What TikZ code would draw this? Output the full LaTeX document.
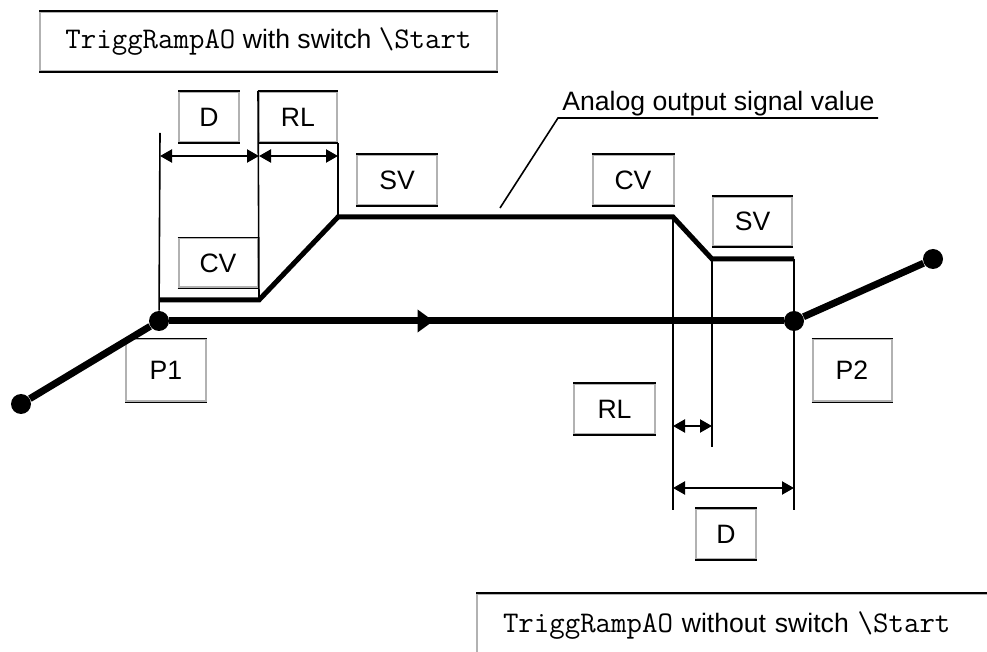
\documentclass[tikz,border=0pt]{standalone}
\usepackage{fontspec}
\setsansfont{Liberation Sans}
\usetikzlibrary{arrows.meta,decorations.markings}
\newcommand{\codetxt}[1]{{\ttfamily\fontsize{15}{16}\selectfont #1}}

\begin{document}
\begin{tikzpicture}[
  x=0.5pt, y=-0.5pt,
  lbl/.style={draw=gray!60, line width=1pt, minimum width=40pt, minimum height=25pt, inner sep=0pt,
    font=\sffamily\fontsize{13.3}{16}\selectfont,
    append after command={\pgfextra{\let\lblnode\tikzlastnode}
      (\lblnode.north west) edge[draw=black, line width=0.8pt] (\lblnode.north east)
      (\lblnode.south west) edge[draw=black, line width=0.8pt] (\lblnode.south east)}},
  track/.style={line width=3.5pt},
  signal/.style={line width=2.5pt},
  guide/.style={line width=0.8pt},
  dimarrow/.style={<->, >={Triangle[length=6pt,width=6.5pt]}, line width=1.1pt},
  dot/.style={circle, fill, inner sep=0pt, minimum size=10pt}
]
  \path[use as bounding box, clip] (0,0) rectangle (987,652);

  % Headings
  \node[lbl, minimum width=228.5pt, minimum height=29.5pt] (topbox) at (268.5,41.5)
    {\codetxt{TriggRampAO} with switch \codetxt{\textbackslash Start}};
  \node[lbl, anchor=north west, minimum height=32pt, inner xsep=13pt, text width=250pt] (botbox) at (476,593)
    {\codetxt{TriggRampAO} without switch \codetxt{\textbackslash Start}};

  % Path points
  \node[dot] (a) at (21,404) {};
  \node[dot] (p1) at (159,321) {};
  \node[dot] (p2) at (794,321) {};
  \node[dot] (e) at (933,259) {};

  % Signal corners
  \coordinate (s0) at (160,300);
  \coordinate (s1) at (259,300);
  \coordinate (s2) at (338,217);
  \coordinate (s3) at (673,217);
  \coordinate (s4) at (712,259);
  \coordinate (s5) at (794,259);

  % Labels
  \node[lbl, minimum width=30pt] (dTop) at (209,117) {D};
  \node[lbl, minimum width=39pt] (rlTop) at (298,117) {RL};
  \node[lbl] (svTop) at (397,180) {SV};
  \node[lbl, minimum width=39.5pt, minimum height=24.5pt] (cvLeft) at (218,263) {CV};
  \node[lbl, minimum width=40.5pt] (cvRight) at (633,180) {CV};
  \node[lbl, minimum width=39.5pt, minimum height=24.5pt] (svRight) at (752.5,221.5) {SV};
  \node[lbl, minimum height=31pt] (p1box) at (166,370.5) {P1};
  \node[lbl, minimum width=39.5pt, minimum height=31pt] (p2box) at (852,370.5) {P2};
  \node[lbl, minimum width=40.5pt] (rlLow) at (614.5,409) {RL};
  \node[lbl, minimum width=30pt] (dLow) at (726,534) {D};

  % Guide lines
  \coordinate (g0) at (160,133);
  \coordinate (q3) at (673,510);
  \coordinate (q4) at (712,447);
  \coordinate (q5) at (794,510);
  \draw[guide] (g0) -- (p1);
  \draw[guide] (rlTop.north west) -- (s1);
  \draw[guide] (rlTop.south east) -- (s2);
  \draw[guide] (s3) -- (q3);
  \draw[guide] (s4) -- (q4);
  \draw[guide] (s5) -- (q5);

  % Dimensions
  \coordinate (dl) at (160,156);
  \coordinate (dm) at (259,156);
  \coordinate (dr) at (338,156);
  \coordinate (rl1) at (673,426);
  \coordinate (rl2) at (712,426);
  \coordinate (dd1) at (673,488);
  \coordinate (dd2) at (794,488);
  \draw[dimarrow] (dl) -- (dm);
  \draw[dimarrow] (dm) -- (dr);
  \draw[dimarrow] (rl1) -- (rl2);
  \draw[dimarrow] (dd1) -- (dd2);

  % Signal value
  \draw[signal] (s0) -- (s1) -- (s2) -- (s3) -- (s4) -- (s5);
  \coordinate (lead) at (500,208);
  \coordinate (knee) at (558,118);
  \coordinate (lineEnd) at (878,118);
  \draw[guide] (lead) -- (knee) -- (lineEnd);
  \node[anchor=south west, inner sep=1pt, font=\sffamily\fontsize{13.3}{16}\selectfont] (sigText) at (560,118)
    {Analog output signal value};

  % Robot path
  \draw[track] (a) -- (p1);
  \draw[track, postaction={decorate}, decoration={markings,
    mark=at position 0.43 with {\arrow{Triangle[length=8pt,width=11pt]}}}] (p1) -- (p2);
  \draw[track] (p2) -- (e);
\end{tikzpicture}
\end{document}
